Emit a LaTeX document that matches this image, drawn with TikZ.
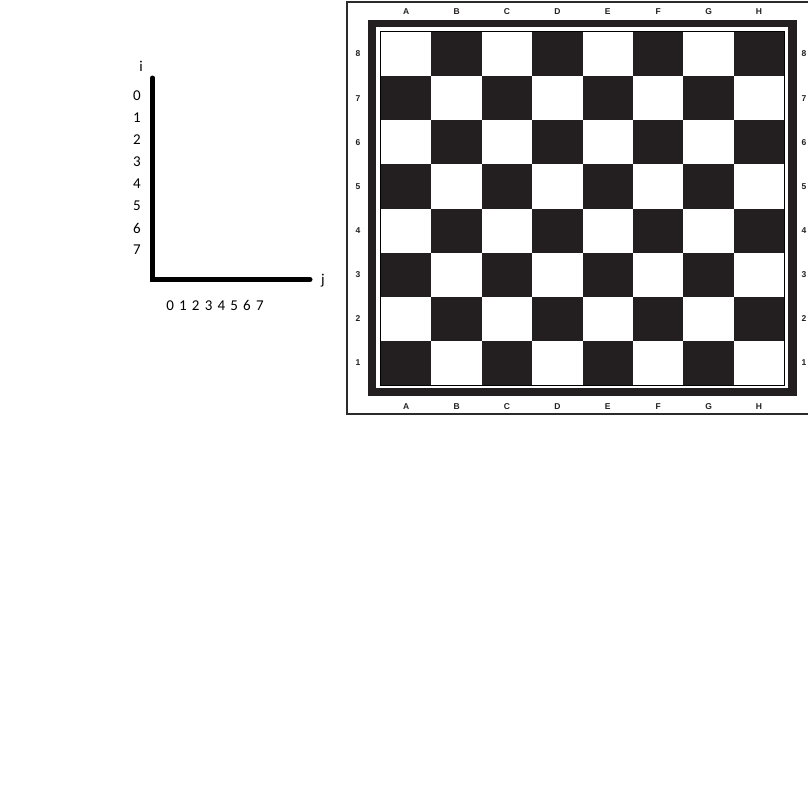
\documentclass[tikz,border=0pt]{standalone}
\usepackage{fontspec}
\setmainfont{Carlito}
\newfontfamily\boardfont{Liberation Sans}
\usetikzlibrary{positioning}
\definecolor{boardblack}{HTML}{231F20}
\definecolor{framegrey}{HTML}{2B2B2B}
\tikzset{
  axis line/.style   = {line width=5pt, line cap=round},
  axis label/.style  = {inner sep=0pt, font=\fontsize{15}{17}\selectfont},
  frame line/.style  = {draw=framegrey, line width=1.5pt},
  board edge/.style  = {draw=black, line width=1pt},
  dark square/.style = {fill=boardblack},
  board label/.style = {inner sep=0pt, boardblack,
                        font=\boardfont\bfseries\fontsize{8.5}{9}\selectfont},
}

\begin{document}
\begin{tikzpicture}[x=1pt, y=-1pt]
    \useasboundingbox (0,0) rectangle (808,800);
    \coordinate (itop) at (152.5,78);
    \coordinate (origin) at (152.5,279.5);
    \coordinate (jend) at (310,279.5);
    \draw[axis line] (itop) -- (origin) -- (jend);
    \node[axis label] (i) at (141,66) {i};
    \node[axis label] (j) at (323,281) {j};
    \foreach \n in {0,...,7}
      \node[axis label] (row\n) at (137,96+22*\n) {\n};
    \node[axis label] (cols) at (215,305) {\spaceskip=5.2pt 0 1 2 3 4 5 6 7};

    \draw[frame line] (347,2) rectangle (815,414);
    \fill[boardblack] (368,20) rectangle (797,396);
    \fill[white] (376,27.5) rectangle (788,388);
    \draw[board edge] (380.5,31.5) rectangle (784.5,385.5);
    \foreach \c in {0,...,7}
      \foreach \r in {0,...,7} {
        \pgfmathtruncatemacro{\odd}{mod(\c+\r,2)}
        \ifnum\odd=1
          \fill[dark square] (381+50.4*\c,32+44.15*\r) rectangle ++(50.4,44.15);
        \fi
      }
    \foreach \f [count=\k from 0] in {A,B,C,D,E,F,G,H} {
      \node[board label] (top\f) at (406.2+50.4*\k,12) {\f};
      \node[board label] (bot\f) at (406.2+50.4*\k,407) {\f};
    }
    \foreach \rk [count=\k from 0] in {8,7,...,1} {
      \node[board label] (left\rk) at (358,54+44.15*\k) {\rk};
      \node[board label] (right\rk) at (804,54+44.15*\k) {\rk};
    }
  \end{tikzpicture}
\end{document}
